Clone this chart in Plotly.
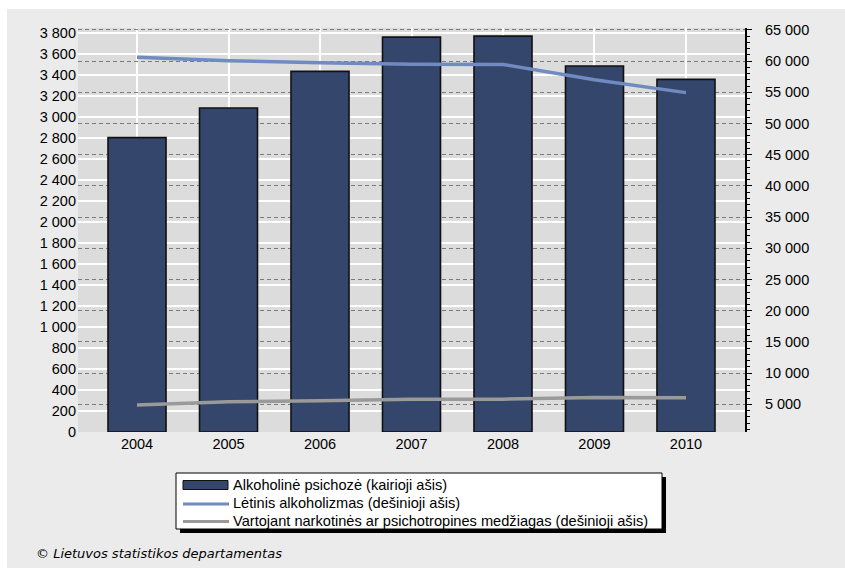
import plotly.graph_objects as go

# ---- data ----
years = ["2004", "2005", "2006", "2007", "2008", "2009", "2010"]
alkoholine_psichoze = [2802, 3083, 3432, 3758, 3768, 3483, 3356]
letinis_alkoholizmas = [60620, 60045, 59725, 59500, 59455, 57010, 54940]
narkotines = [4880, 5410, 5570, 5840, 5840, 6110, 6050]
left_ticks = list(range(0, 3801, 200))
right_ticks = list(range(5000, 65001, 5000))

names = [
    "Alkoholinė psichozė (kairioji ašis)",
    "Lėtinis alkoholizmas (dešinioji ašis)",
    "Vartojant narkotinės ar psichotropines medžiagas (dešinioji ašis)",
]
source = "© Lietuvos statistikos departamentas"

# ---- geometry / style ----
W, H = 845, 568
L, R, T, B = 78, 100, 28, 136
PW, PH = W - L - R, H - T - B
BAR = "#34466b"
BLUE = "#6f8bbf"
GREY = "#9a9a9a"
FONT = "Liberation Sans"


def fx(px):
    return (px - L) / PW


def fy(py):
    return (H - B - py) / PH


fig = go.Figure()
fig.add_trace(go.Bar(x=years, y=alkoholine_psichoze, name=names[0],
                     marker=dict(color=BAR, line=dict(color="#111111", width=1.6)),
                     width=0.634, showlegend=False))
fig.add_trace(go.Scatter(x=years, y=letinis_alkoholizmas, name=names[1], yaxis="y2",
                         mode="lines", line=dict(color=BLUE, width=3.5), showlegend=False))
fig.add_trace(go.Scatter(x=years, y=narkotines, name=names[2], yaxis="y2",
                         mode="lines", line=dict(color=GREY, width=3.5), showlegend=False))

shapes = [
    # white outer strips (top and left)
    dict(type="rect", xref="paper", yref="paper", x0=fx(-5), x1=fx(W + 5), y0=fy(9), y1=fy(-5),
         fillcolor="white", line=dict(width=0), layer="below"),
    dict(type="rect", xref="paper", yref="paper", x0=fx(-5), x1=fx(7), y0=fy(H + 5), y1=fy(-5),
         fillcolor="white", line=dict(width=0), layer="below"),
    # legend shadow
    dict(type="rect", xref="paper", yref="paper", x0=fx(180), x1=fx(666), y0=fy(533), y1=fy(477),
         fillcolor="black", line=dict(width=0), layer="above"),
    # legend box
    dict(type="rect", xref="paper", yref="paper", x0=fx(176), x1=fx(662), y0=fy(529), y1=fy(473),
         fillcolor="white", line=dict(color="black", width=1), layer="above"),
    # swatches
    dict(type="rect", xref="paper", yref="paper", x0=fx(183), x1=fx(228), y0=fy(489.5), y1=fy(480.5),
         fillcolor=BAR, line=dict(color="#111111", width=1), layer="above"),
    dict(type="line", xref="paper", yref="paper", x0=fx(183), x1=fx(229), y0=fy(504), y1=fy(504),
         line=dict(color=BLUE, width=3), layer="above"),
    dict(type="line", xref="paper", yref="paper", x0=fx(183), x1=fx(229), y0=fy(521.5), y1=fy(521.5),
         line=dict(color=GREY, width=3), layer="above"),
]

annotations = []
for nm, yy in zip(names, [485, 503, 521]):
    annotations.append(dict(text=nm, xref="paper", yref="paper", x=fx(231), y=fy(yy),
                            xanchor="left", yanchor="middle", showarrow=False,
                            font=dict(family=FONT, size=14.6, color="black")))
annotations.append(dict(text="<i>" + source + "</i>", xref="paper", yref="paper", x=fx(34), y=fy(553),
                        xanchor="left", yanchor="middle", showarrow=False,
                        font=dict(family="DejaVu Sans", size=13, color="black")))

fig.update_layout(
    width=W, height=H, autosize=False,
    margin=dict(l=L, r=R, t=T, b=B, pad=0),
    paper_bgcolor="#ebebeb", plot_bgcolor="#dcdcdc",
    separators=", ",
    font=dict(family=FONT, size=14, color="black"),
    xaxis=dict(type="category", range=[-0.645, 6.645], showgrid=True, gridcolor="white",
               gridwidth=1.5, ticks="", showline=False, zeroline=False,
               tickfont=dict(size=14.5), ticklabelstandoff=1),
    yaxis=dict(range=[0, 3845], tickvals=left_ticks, tickformat=",d", showgrid=True,
               gridcolor="white", gridwidth=1.5, zeroline=False, showline=False, ticks="",
               tickfont=dict(size=14.5), ticklabelstandoff=1),
    yaxis2=dict(overlaying="y", side="right", range=[575, 65290], tickvals=right_ticks,
                tickformat=",d", showgrid=True, gridcolor="#7a7a7a", gridwidth=1.3,
                griddash="4px,3px", zeroline=False, showline=True, linecolor="black",
                linewidth=2, ticks="outside", ticklen=5, tickcolor="black", tickwidth=1,
                minor=dict(dtick=1000, tick0=0, ticks="outside", ticklen=3, tickcolor="black",
                           showgrid=False),
                tickfont=dict(size=14.5), ticklabelstandoff=10),
    shapes=shapes,
    annotations=annotations,
)

fig.write_html("out.html")
